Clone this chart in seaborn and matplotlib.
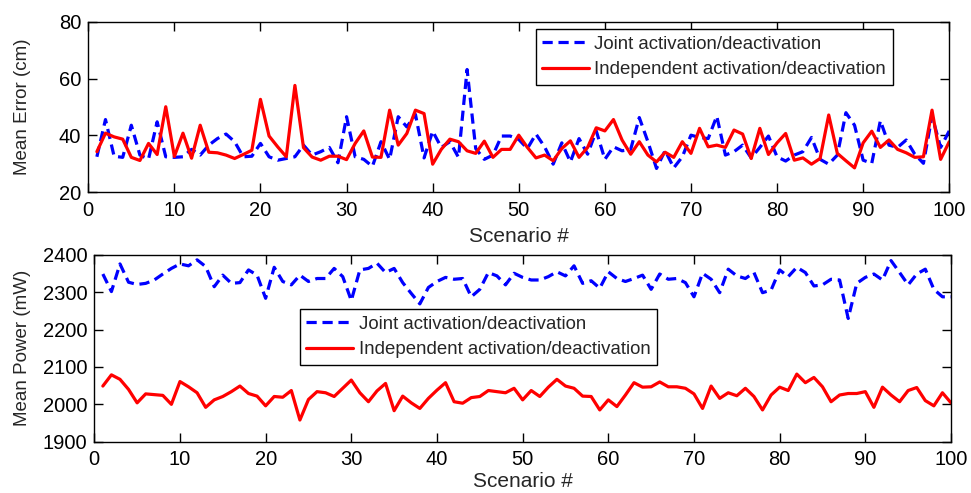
import numpy as np
import pandas as pd
import matplotlib
matplotlib.use("Agg")
import matplotlib.pyplot as plt
import seaborn as sns

scenarios = list(range(1, 101))

err_joint = [32.5, 45.6, 32.7, 32.3, 43.6, 33.1, 31.7, 44.8, 32.5, 32.3,
             32.5, 35.1, 33.1, 36.6, 38.9, 40.5, 37.8, 32.5, 32.7, 37.2,
             32.5, 31.3, 31.9, 32.5, 36.6, 33.1, 34.3, 35.8, 30.4, 46.6,
             32.5, 31.6, 29.1, 37.8, 31.6, 46.6, 43.0, 47.4, 32.1, 41.5,
             35.8, 37.8, 32.3, 63.2, 35.4, 31.6, 33.1, 39.8, 39.8, 38.6,
             35.4, 40.5, 36.0, 29.9, 37.4, 30.7, 38.9, 33.4, 41.6, 31.6,
             36.0, 34.6, 35.1, 46.3, 37.8, 28.4, 34.7, 28.6, 32.5, 40.1,
             39.3, 38.9, 46.8, 33.1, 34.3, 36.6, 32.1, 35.8, 39.8, 32.5,
             31.0, 33.1, 34.3, 39.3, 31.6, 29.9, 33.1, 48.0, 43.6, 31.3,
             30.2, 45.2, 36.6, 35.8, 38.4, 33.4, 30.2, 46.8, 35.8, 41.6]

err_indep = [34.3, 40.8, 39.5, 38.7, 32.3, 31.2, 37.2, 33.3, 50.1, 32.6,
             40.8, 32.0, 43.6, 34.1, 33.9, 33.1, 31.9, 33.3, 34.8, 52.7,
             39.8, 36.0, 32.5, 57.6, 35.7, 32.4, 31.3, 32.7, 32.7, 31.5,
             37.2, 41.6, 32.4, 32.3, 48.9, 36.6, 40.7, 48.9, 47.7, 29.9,
             35.1, 38.7, 37.8, 34.6, 33.7, 38.0, 32.3, 35.1, 35.1, 40.1,
             35.8, 32.1, 33.1, 31.1, 35.4, 38.1, 32.3, 35.8, 42.7, 41.6,
             45.6, 38.4, 33.4, 37.8, 33.1, 30.7, 34.1, 32.3, 37.8, 33.7,
             42.5, 36.0, 36.6, 35.8, 41.9, 40.5, 31.9, 42.5, 33.3, 37.4,
             40.7, 31.3, 32.1, 29.9, 31.9, 47.2, 33.7, 31.1, 28.6, 37.4,
             41.5, 35.8, 38.4, 35.1, 33.9, 32.3, 32.5, 48.9, 31.6, 37.8]

pow_joint = [2349, 2302, 2376, 2327, 2321, 2324, 2333, 2349, 2364, 2376,
             2371, 2387, 2369, 2315, 2346, 2324, 2326, 2360, 2346, 2284,
             2367, 2329, 2320, 2346, 2329, 2337, 2337, 2364, 2342, 2278,
             2360, 2364, 2378, 2353, 2364, 2326, 2297, 2269, 2313, 2329,
             2340, 2335, 2337, 2288, 2308, 2353, 2344, 2320, 2351, 2340,
             2333, 2333, 2342, 2355, 2344, 2371, 2324, 2331, 2311, 2355,
             2337, 2329, 2337, 2346, 2308, 2349, 2335, 2337, 2326, 2288,
             2351, 2335, 2299, 2362, 2344, 2337, 2353, 2299, 2306, 2360,
             2342, 2367, 2353, 2317, 2320, 2335, 2333, 2230, 2324, 2340,
             2349, 2333, 2385, 2353, 2320, 2349, 2362, 2308, 2288, 2288]

pow_indep = [2049, 2079, 2067, 2040, 2004, 2028, 2026, 2024, 2000, 2061,
             2047, 2031, 1992, 2012, 2021, 2034, 2049, 2029, 2022, 1996,
             2021, 2019, 2037, 1958, 2013, 2034, 2031, 2021, 2043, 2065,
             2031, 2007, 2036, 2056, 1983, 2022, 2004, 1989, 2016, 2038,
             2058, 2007, 2003, 2018, 2021, 2037, 2034, 2031, 2043, 2012,
             2037, 2021, 2046, 2067, 2049, 2043, 2022, 2021, 1985, 2012,
             1994, 2025, 2058, 2046, 2047, 2060, 2047, 2047, 2043, 2028,
             1989, 2049, 2016, 2031, 2023, 2043, 2021, 1985, 2025, 2046,
             2037, 2081, 2058, 2072, 2047, 2007, 2025, 2029, 2029, 2034,
             1992, 2046, 2025, 2007, 2037, 2045, 2010, 1996, 2031, 2004]

label_joint = "Joint activation/deactivation"
label_indep = "Independent activation/deactivation"

sns.set_style("ticks")
plt.rcParams['font.family'] = ['Liberation Sans', 'DejaVu Sans']

fig = plt.figure(figsize=(9.71, 4.93), dpi=100)
ax1 = fig.add_axes([0.0909, 0.6099, 0.8867, 0.346])
ax2 = fig.add_axes([0.0971, 0.1041, 0.8823, 0.3787])

TICK_FS = 14.5
XLAB_FS = 15
YLAB_FS = 13.5
LEG_FS = 13.4

def draw(ax, yj, yi, xlabpad):
    df = pd.DataFrame({"x": scenarios * 2,
                       "y": list(yj) + list(yi),
                       "s": [label_joint] * len(yj) + [label_indep] * len(yi)})
    sns.lineplot(data=df, x="x", y="y", hue="s", style="s",
                 palette={label_joint: "#0000ff", label_indep: "#ff0000"},
                 dashes={label_joint: (3.2, 1.8), label_indep: ""},
                 linewidth=2.3, ax=ax, legend=True)
    ax.set_xlim(0, 100)
    ax.set_xticks(range(0, 101, 10))
    ax.tick_params(direction="in", length=6.5, width=1, labelsize=TICK_FS,
                   top=True, right=True, colors="black")
    ax.tick_params(axis="x", pad=6)
    ax.tick_params(axis="y", pad=5)
    for sp in ax.spines.values():
        sp.set_linewidth(1.0)
        sp.set_color("black")
    ax.set_xlabel("Scenario #", fontsize=XLAB_FS, labelpad=xlabpad)

def legend(ax, anchor):
    leg = ax.legend(loc="upper left", bbox_to_anchor=anchor, fontsize=LEG_FS,
                    frameon=True, fancybox=False, edgecolor="black", framealpha=1,
                    handlelength=2.5, borderpad=0.35, labelspacing=0.45,
                    handletextpad=0.3, borderaxespad=0)
    leg.get_frame().set_linewidth(1.0)

draw(ax1, err_joint, err_indep, 5)
ax1.set_ylim(20, 80)
ax1.set_yticks([20, 40, 60, 80])
ax1.set_ylabel("Mean Error (cm)", fontsize=YLAB_FS)
ax1.yaxis.set_label_coords(-0.0666, 0.5)
legend(ax1, (0.5196, 0.9555))

draw(ax2, pow_joint, pow_indep, 2)
ax2.set_ylim(1900, 2400)
ax2.set_yticks(range(1900, 2401, 100))
ax2.set_ylabel("Mean Power (mW)", fontsize=YLAB_FS)
ax2.yaxis.set_label_coords(-0.0739, 0.5)
legend(ax2, (0.2401, 0.709))

fig.savefig("out.png", dpi=100)
